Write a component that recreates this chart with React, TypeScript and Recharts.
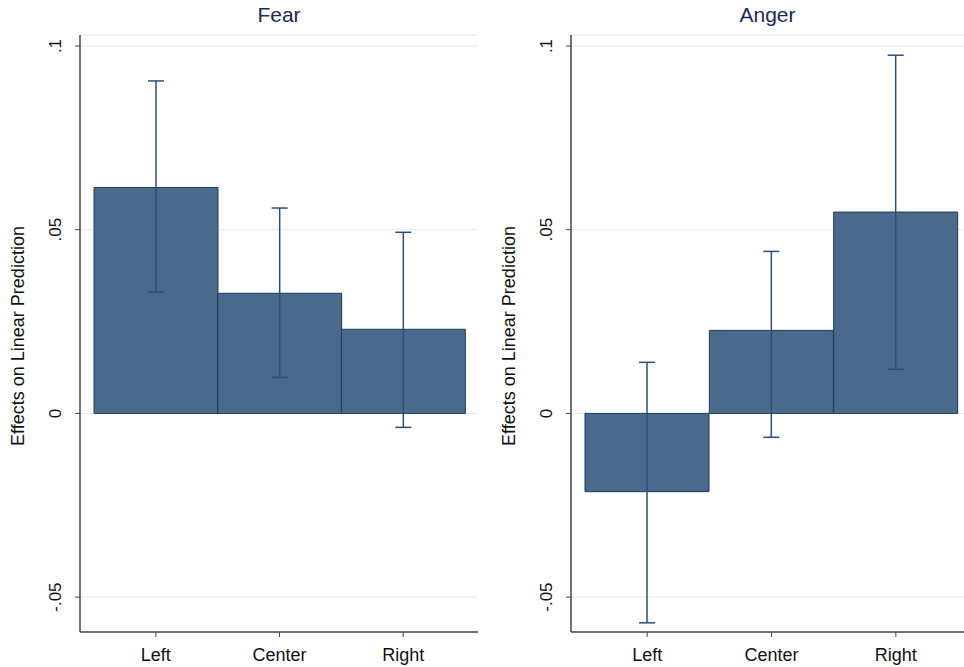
import { Bar, BarChart, CartesianGrid, ErrorBar, XAxis, YAxis } from 'recharts';

const categories = ['Left', 'Center', 'Right'];

const fearValues = [0.0615, 0.0327, 0.0229];
const fearLow = [0.033, 0.0098, -0.0038];
const fearHigh = [0.0905, 0.0559, 0.0493];

const angerValues = [-0.0213, 0.0226, 0.0548];
const angerLow = [-0.057, -0.0065, 0.012];
const angerHigh = [0.0139, 0.0441, 0.0975];

const yTicks = [-0.05, 0, 0.05, 0.1];
const yTickLabels = ['-.05', '0', '.05', '.1'];

const FONT = '"Liberation Sans", Arial, sans-serif';
const BAR_FILL = '#4a6a8c';
const BAR_STROKE = '#1f3a58';
const ERR_COLOR = '#2b4f77';
const TITLE_COLOR = '#1c2a52';

function build(values: number[], low: number[], high: number[]) {
  return categories.map((c, i) => ({
    name: c,
    value: values[i],
    err: [values[i] - low[i], high[i] - values[i]],
  }));
}

function YTick(props: any) {
  const { x, y, payload } = props;
  const idx = yTicks.indexOf(payload.value);
  const label = idx >= 0 ? yTickLabels[idx] : String(payload.value);
  return (
    <text
      x={x - 12}
      y={y}
      transform={`rotate(-90, ${x - 12}, ${y})`}
      textAnchor="middle"
      fontSize={17}
      fontFamily={FONT}
      fill="#111"
    >
      {label}
    </text>
  );
}

function Panel({
  title,
  data,
  left,
  width,
  padRight,
  xPadRight,
}: {
  title: string;
  data: any[];
  left: number;
  width: number;
  padRight: number;
  xPadRight: number;
}) {
  return (
    <div style={{ position: 'absolute', left, top: 0, width, height: 667 }}>
      <div
        style={{
          position: 'absolute',
          left: 80,
          width: width - 80 - padRight,
          top: 3,
          textAlign: 'center',
          fontFamily: FONT,
          fontSize: 21,
          color: TITLE_COLOR,
        }}
      >
        {title}
      </div>
      <BarChart
        width={width}
        height={667}
        data={data}
        margin={{ top: 35, right: padRight, bottom: 0, left: 0 }}
        barCategoryGap={0}
      >
        <CartesianGrid horizontal vertical={false} stroke="#e6e6e6" />
        <XAxis
          dataKey="name"
          height={35}
          padding={{ left: 14, right: xPadRight }}
          axisLine={{ stroke: '#444', strokeWidth: 1.5 }}
          tickLine={{ stroke: '#444' }}
          tickSize={5}
          tick={{ fontSize: 18, fontFamily: FONT, fill: '#111', dy: 9 }}
        />
        <YAxis
          width={80}
          type="number"
          domain={[-0.0595, 0.103]}
          ticks={yTicks}
          allowDataOverflow
          axisLine={{ stroke: '#444', strokeWidth: 1.5 }}
          tickLine={{ stroke: '#444' }}
          tickSize={5}
          tick={<YTick />}
          label={{
            content: () => (
              <text
                x={24}
                y={336}
                transform="rotate(-90, 24, 336)"
                textAnchor="middle"
                fontSize={18}
                fontFamily={FONT}
                fill="#111"
              >
                Effects on Linear Prediction
              </text>
            ),
          }}
        />
        <Bar
          dataKey="value"
          fill={BAR_FILL}
          stroke={BAR_STROKE}
          strokeWidth={1}
          isAnimationActive={false}
        >
          <ErrorBar dataKey="err" width={8} stroke={ERR_COLOR} strokeWidth={1.5} />
        </Bar>
      </BarChart>
    </div>
  );
}

export default function App() {
  return (
    <div
      style={{
        position: 'absolute',
        left: 0,
        top: 0,
        width: 964,
        height: 667,
        background: '#fff',
        overflow: 'hidden',
      }}
    >
      <Panel
        title="Fear"
        data={build(fearValues, fearLow, fearHigh)}
        left={0}
        width={482}
        padRight={4}
        xPadRight={13}
      />
      <Panel
        title="Anger"
        data={build(angerValues, angerLow, angerHigh)}
        left={491}
        width={473}
        padRight={0}
        xPadRight={6}
      />
    </div>
  );
}
